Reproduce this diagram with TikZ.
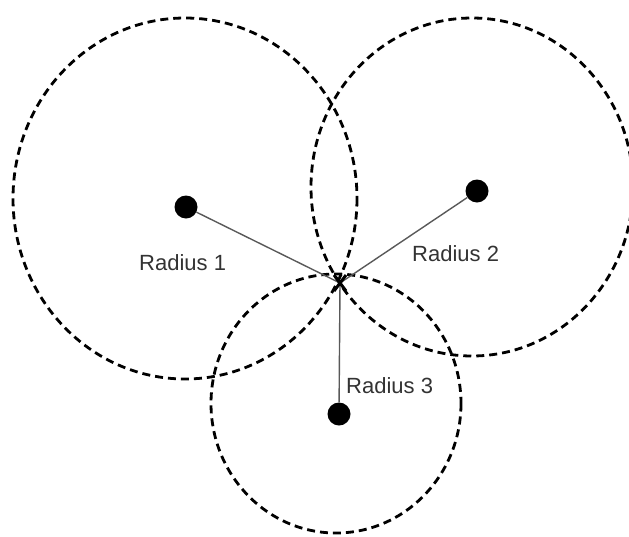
\documentclass[tikz,border=0pt]{standalone}
\usepackage{fontspec}
\setmainfont{Liberation Sans}
\begin{document}
\begin{tikzpicture}[x=1pt,y=-1pt,
  ring/.style={draw=black,line width=2.8pt,dash pattern=on 8pt off 5pt},
  spoke/.style={draw=black!65,line width=1.4pt},
  dot/.style={circle,fill=black,minimum size=23pt,inner sep=0pt},
  lbl/.style={font=\fontsize{22}{26}\selectfont,text=black!80,inner sep=0pt,anchor=base west}]
\useasboundingbox (0,0) rectangle (629,536);
\clip (0,0) rectangle (629,536);
% circles
\draw[ring] (185,198.5) ellipse [x radius=172, y radius=180.5];
\draw[ring] (472,187) ellipse [x radius=161, y radius=169];
\draw[ring] (336,403.5) ellipse [x radius=125, y radius=129.5];
% centres
\node[dot] (d1) at (186,207) {};
\node[dot] (d2) at (477,191) {};
\node[dot] (d3) at (339,414) {};
\coordinate (xm) at (340,283);
% spokes
\draw[spoke] (d1) -- (xm);
\draw[spoke] (d2) -- (xm);
\draw[spoke] (d3) -- (xm);
% cross mark
\draw[line width=3pt] ([shift={(-6,-8)}]xm) -- ([shift={(6,8)}]xm);
\draw[line width=3pt] ([shift={(6,-8)}]xm) -- ([shift={(-6,8)}]xm);
% labels
\node[lbl] (l1) at (139,270) {Radius 1};
\node[lbl] (l2) at (412,261) {Radius 2};
\node[lbl] (l3) at (346,393) {Radius 3};
\end{tikzpicture}
\end{document}
